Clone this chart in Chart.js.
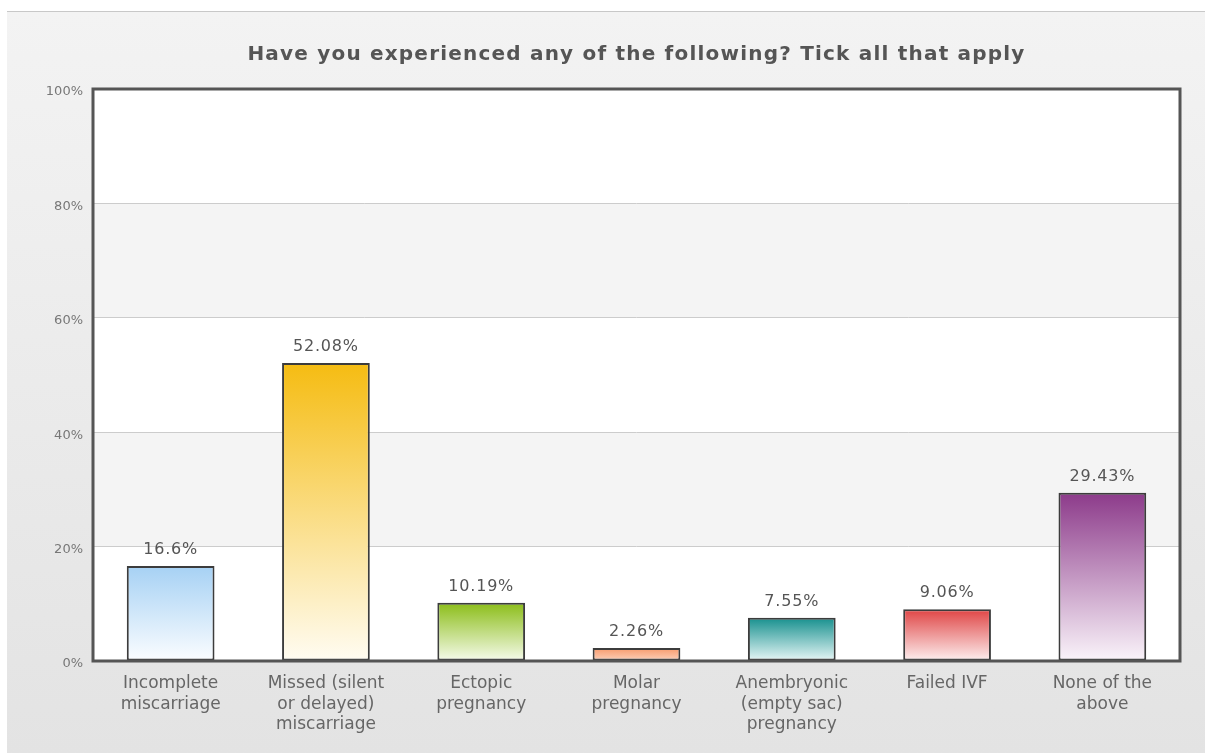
<!DOCTYPE html>
<html>
<head>
<meta charset="utf-8">
<script src="https://cdn.jsdelivr.net/npm/chart.js@4.4.1/dist/chart.umd.min.js"></script>
<style>
    html, body { margin: 0; padding: 0; background: #fff; }
    #panel {
        position: absolute; left: 7px; top: 11px; width: 1198px; height: 742px;
        border-top: 1px solid #c8c8c8;
        background: linear-gradient(#f3f3f3, #e3e3e3);
    }
    #wrap { position: absolute; left: 0; top: 0; width: 1205px; height: 753px; }
</style>
</head>
<body>
<div id="panel"></div>
<div id="wrap"><canvas id="surveyChart"></canvas></div>
<script>
// categories + values
const chartTitle = 'Have you experienced any of the following? Tick all that apply';
const categories = [
    ['Incomplete', 'miscarriage'],
    ['Missed (silent', 'or delayed)', 'miscarriage'],
    ['Ectopic', 'pregnancy'],
    ['Molar', 'pregnancy'],
    ['Anembryonic', '(empty sac)', 'pregnancy'],
    ['Failed IVF'],
    ['None of the', 'above']
];
const percentages = [16.6, 52.08, 10.19, 2.26, 7.55, 9.06, 29.43];
const yTicks = [0, 20, 40, 60, 80, 100];

// gradient colours, top -> bottom of each bar
const topColors = ['#a6d1f4', '#f5bc12', '#8bbd18', '#f79a6c', '#17908e', '#df4444', '#8c3a8a'];
const bottomColors = ['#fbfdff', '#fffcf2', '#f6fbec', '#fdd2bc', '#e8f7f7', '#fdf0f0', '#faf4fa'];

const fontFamily = '"DejaVu Sans", Verdana, sans-serif';

// title, panel bands, outer border, value labels
const decoPlugin = {
    id: 'deco',
    beforeDraw(chart) {
        const { ctx, chartArea: a, scales } = chart;
        ctx.save();
        ctx.fillStyle = '#ffffff';
        ctx.fillRect(a.left, a.top, a.right - a.left, a.bottom - a.top);
        ctx.fillStyle = '#f4f4f4';
        for (let i = 1; i < yTicks.length - 1; i += 2) {
            const y1 = scales.y.getPixelForValue(yTicks[i]);
            const y2 = scales.y.getPixelForValue(yTicks[i + 1]);
            ctx.fillRect(a.left, y2, a.right - a.left, y1 - y2);
        }

        ctx.fillStyle = '#555555';
        ctx.font = 'bold 20px ' + fontFamily;
        ctx.letterSpacing = '1.2px';
        ctx.textAlign = 'center';
        ctx.textBaseline = 'middle';
        ctx.fillText(chartTitle, (a.left + a.right) / 2, 55);
        ctx.restore();
    },
    afterDatasetsDraw(chart) {
        const { ctx, chartArea: a } = chart;
        ctx.save();
        ctx.strokeStyle = '#555555';
        ctx.lineWidth = 3;
        ctx.strokeRect(a.left, a.top, a.right - a.left, a.bottom - a.top);

        ctx.fillStyle = '#555555';
        ctx.font = '16px ' + fontFamily;
        ctx.letterSpacing = '0.8px';
        ctx.textAlign = 'center';
        ctx.textBaseline = 'bottom';
        chart.getDatasetMeta(0).data.forEach((bar, i) => {
            ctx.fillText(percentages[i] + '%', bar.x, bar.y - 8);
        });
        ctx.restore();
    }
};

new Chart(document.getElementById('surveyChart').getContext('2d'), {
    type: 'bar',
    data: {
        labels: categories,
        datasets: [{
            data: percentages,
            backgroundColor: (context) => {
                const chart = context.chart;
                const i = context.dataIndex;
                if (!chart.chartArea || i === undefined) {
                    return topColors[i || 0];
                }
                const yTop = chart.scales.y.getPixelForValue(percentages[i]);
                const yBot = chart.scales.y.getPixelForValue(0);
                const g = chart.ctx.createLinearGradient(0, yTop, 0, yBot);
                g.addColorStop(0, topColors[i]);
                g.addColorStop(1, bottomColors[i]);
                return g;
            },
            borderColor: '#3c3c3c',
            borderWidth: 2,
            borderSkipped: false,
            barPercentage: 0.565,
            categoryPercentage: 1,
        }]
    },
    options: {
        responsive: true,
        maintainAspectRatio: false,
        animation: false,
        layout: {
            padding: { left: 7, right: 25, top: 89, bottom: 0 }
        },
        plugins: {
            legend: { display: false },
            tooltip: { enabled: false },
            title: { display: false }
        },
        scales: {
            y: {
                min: 0,
                max: 100,
                afterFit: (scale) => { scale.width = 86; },
                afterBuildTicks: (scale) => {
                    scale.ticks = yTicks.map(v => ({ value: v }));
                },
                ticks: {
                    color: '#777777',
                    padding: 10,
                    labelOffset: 3,
                    font: { family: fontFamily, size: 13 },
                    callback: (value) => value + '%'
                },
                grid: {
                    color: '#cccccc',
                    drawTicks: false,
                },
                border: { display: false }
            },
            x: {
                afterFit: (scale) => { scale.height = 92; },
                ticks: {
                    color: '#666666',
                    padding: 13,
                    maxRotation: 0,
                    autoSkip: false,
                    font: { family: fontFamily, size: 17, lineHeight: 1.18 }
                },
                grid: { display: false, drawTicks: false },
                border: { display: false }
            }
        }
    },
    plugins: [decoPlugin]
});
</script>
</body>
</html>
